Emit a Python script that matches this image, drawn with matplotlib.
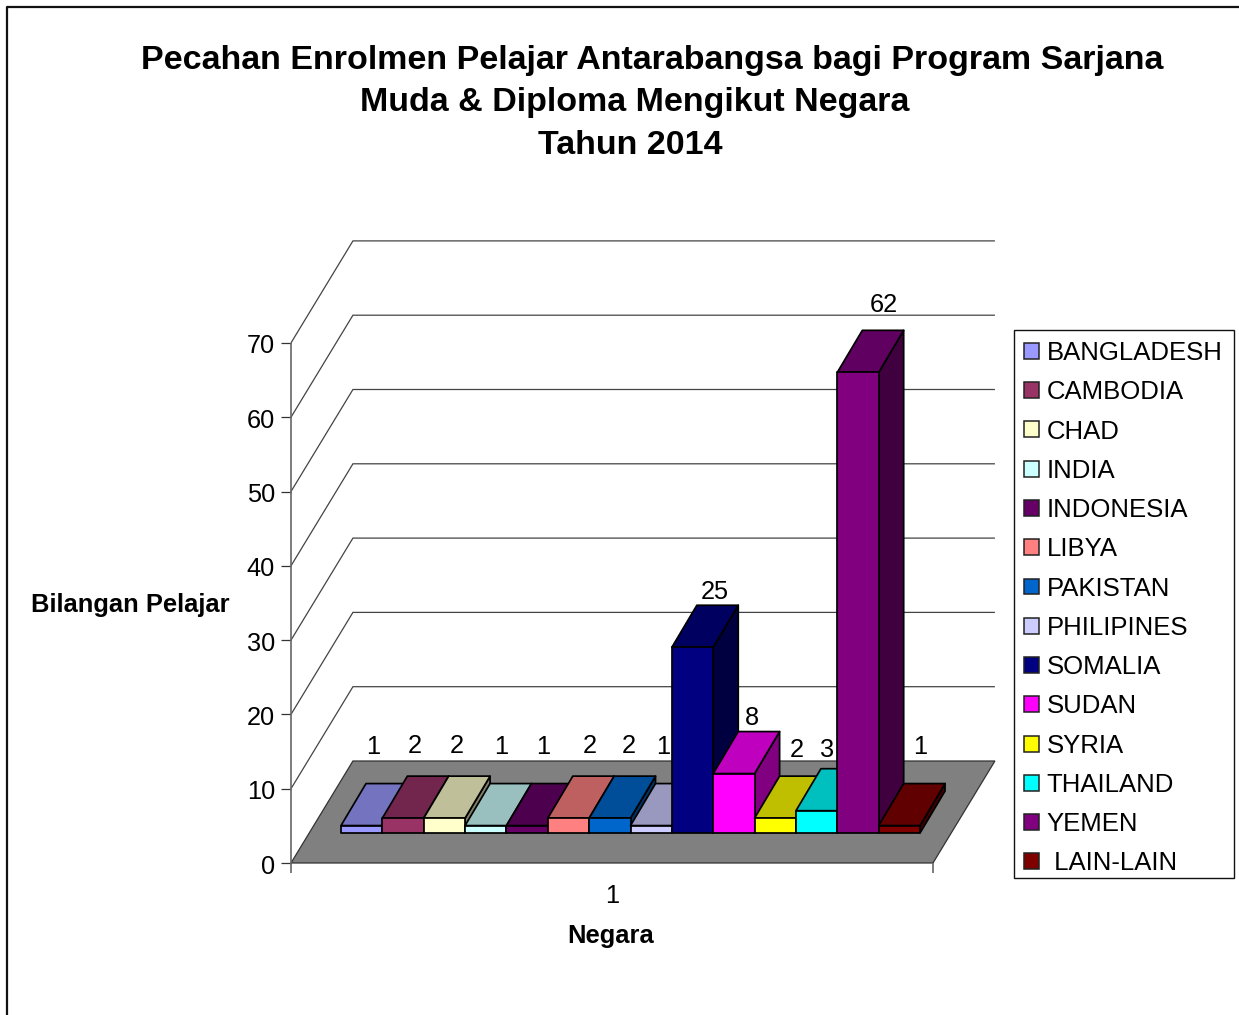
import matplotlib
matplotlib.use("Agg")
import matplotlib.pyplot as plt
from matplotlib.patches import Polygon, Patch, Rectangle
from matplotlib.transforms import Affine2D

plt.rcParams["font.family"] = ["Liberation Sans", "DejaVu Sans"]

COUNTRIES = ["BANGLADESH", "CAMBODIA", "CHAD", "INDIA", "INDONESIA", "LIBYA", "PAKISTAN",
             "PHILIPINES", "SOMALIA", "SUDAN", "SYRIA", "THAILAND", "YEMEN", " LAIN-LAIN"]
STUDENTS = [1, 2, 2, 1, 1, 2, 2, 1, 25, 8, 2, 3, 62, 1]
COLORS = ["#9999FF", "#993366", "#FFFFCC", "#CCFFFF", "#660066", "#FF8080", "#0066CC",
          "#CCCCFF", "#000080", "#FF00FF", "#FFFF00", "#00FFFF", "#800080", "#800000"]
Y_TICKS = [0, 10, 20, 30, 40, 50, 60, 70]
TITLE = ["Pecahan Enrolmen Pelajar Antarabangsa bagi Program Sarjana",
         "Muda & Diploma Mengikut Negara", "Tahun 2014"]
CATEGORY = "1"
XLABEL = "Negara"
YLABEL = "Bilangan Pelajar"

W, H = 1239, 1015
X0, Y0 = 341.0, 833.0     # pixel of bar 0, value 0, front face
UX, UY = 41.36, 7.43      # pixels per bar / per student
DX, DY = 25.0 / UX, 42.0 / UY   # one bar depth, in data units
FRONT, BACK = -30.0 / 42, 72.0 / 42   # floor edges, in bar depths
SLANT = 25.5
LEFT, RIGHT = (291 - X0 - FRONT * 25.0) / UX, (933 - X0 - FRONT * 25.0) / UX
BODY = 18.3
# data label spots (the original has them hand placed)
LABEL_X = [373, 415, 457, 501, 543, 590, 629, 663, 715, 752, 797, 827, 884, 920]
LABEL_Y = [745, 744, 744, 745, 745, 744, 744, 745, 590, 716, 748, 748, 303, 745]

fig = plt.figure(figsize=(W / 100, H / 100), dpi=100)
ax = fig.add_axes([0, 0, 1, 1])
ax.set_xlim(-X0 / UX, (W - X0) / UX)
ax.set_ylim((Y0 - H) / UY, Y0 / UY)
ax.set_axis_off()
px = Affine2D().scale(1, -1).translate(0, H)  # pixel coords, y down


def pt(x, v, d=0.0):
    return (x + d * DX, v + d * DY)


def wall(x, v, d):
    # walls and floor lean a touch more than the bars
    return (x + FRONT * DX + (d - FRONT) * SLANT / UX, v + d * DY)


def shade(c, f):
    r, g, b = matplotlib.colors.to_rgb(c)
    return (r * f, g * f, b * f)


def line(pts, color="#444444", lw=1.0, z=1):
    ax.plot([p[0] for p in pts], [p[1] for p in pts], color=color, lw=lw, zorder=z,
            solid_capstyle="butt", solid_joinstyle="miter")


def txt(x, y, s, size=BODY, bold=False, ha="center", z=60):
    ax.text(x, y + 2, s, transform=px, ha=ha, va="center", fontsize=size, color="black",
            fontweight="bold" if bold else "normal", zorder=z)


# chart frame, cut off at the right and bottom of the picture
ax.plot([7, 7, W], [H, 7, 7], transform=px, color="#111111", lw=1.6, zorder=1)

# walls
for t in Y_TICKS[1:]:
    line([wall(LEFT, t, FRONT), wall(LEFT, t, BACK), wall(RIGHT, t, BACK)], lw=0.9)
for t in Y_TICKS:
    f = wall(LEFT, t, FRONT)
    line([(f[0] - 10 / UX, f[1]), f], color="#333333", lw=0.9)
    txt(275, 864.5 - 74.3 * t / 10, str(t), ha="right")
a0 = wall(LEFT, Y_TICKS[0], FRONT)
line([(a0[0], a0[1] - 10 / UY), wall(LEFT, Y_TICKS[-1], FRONT)], color="#666666", lw=1.2, z=3)
b0 = wall(RIGHT, Y_TICKS[0], FRONT)
line([(b0[0], b0[1] - 10 / UY), b0], color="#666666", lw=1.2, z=3)

# floor
ax.add_patch(Polygon([wall(LEFT, 0, FRONT), wall(RIGHT, 0, FRONT), wall(RIGHT, 0, BACK), wall(LEFT, 0, BACK)],
                     facecolor="#808080", edgecolor="#333333", lw=0.9, zorder=2))

# bars, left to right so each one covers the side of the one before
for i, (v, c) in enumerate(zip(STUDENTS, COLORS)):
    z = 10 + i
    edge = dict(edgecolor="black", lw=1.25, joinstyle="round", zorder=z)
    ax.add_patch(Polygon([pt(i + 1, 0), pt(i + 1, 0, 1), pt(i + 1, v, 1), pt(i + 1, v)],
                         facecolor=shade(c, 0.5), **edge))
    ax.add_patch(Polygon([pt(i, v), pt(i + 1, v), pt(i + 1, v, 1), pt(i, v, 1)],
                         facecolor=shade(c, 0.75), **edge))
    ax.add_patch(Polygon([pt(i, 0), pt(i + 1, 0), pt(i + 1, v), pt(i, v)],
                         facecolor=c, **edge))

for x, y, v in zip(LABEL_X, LABEL_Y, STUDENTS):
    txt(x, y, str(v))

txt(612, 894, CATEGORY)
txt(611, 934, XLABEL, size=18.4, bold=True)
txt(130, 603, YLABEL, size=18.4, bold=True)
for x, y, s in zip([652.5, 634.5, 630], [58, 100.5, 143], TITLE):
    txt(x, y, s, size=24.5, bold=True)

# legend box is drawn apart so its padding can differ from the row pitch
ax.add_patch(Rectangle((1014, 330), 220, 548, transform=px, facecolor="white", edgecolor="#111111",
                       lw=1.0, zorder=49))
handles = [Patch(facecolor=c, edgecolor="#222222", lw=1.1, label=n) for n, c in zip(COUNTRIES, COLORS)]
leg = ax.legend(handles=handles, loc="upper left", bbox_to_anchor=(1024, 341), bbox_transform=px,
                fontsize=18.5, frameon=False, borderaxespad=0, borderpad=0, labelspacing=0.594,
                handlelength=0.58, handleheight=0.58, handletextpad=0.31, labelcolor="black")
leg.set_zorder(50)

fig.savefig("out.png", dpi=100, facecolor="white")
